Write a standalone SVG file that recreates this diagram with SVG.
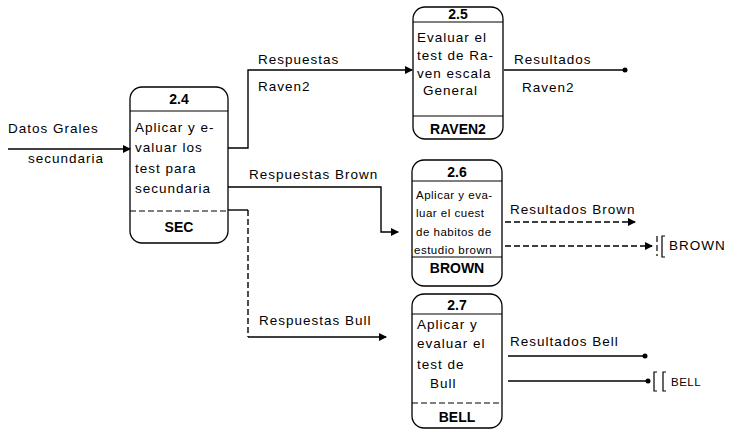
<svg xmlns="http://www.w3.org/2000/svg" width="736" height="430" viewBox="0 0 736 430">
<defs>
<marker id="tri" markerWidth="8" markerHeight="8" refX="7" refY="4" orient="auto" markerUnits="userSpaceOnUse"><path d="M0,0 L8,4 L0,8 Z" fill="#000"/></marker>
<marker id="dot" markerWidth="6" markerHeight="6" refX="3" refY="3" orient="auto" markerUnits="userSpaceOnUse"><circle cx="3" cy="3" r="2.5" fill="#000"/></marker>
<style>
text{font-family:"Liberation Sans",Arial,sans-serif;fill:#000}
.t{font-size:13.5px;letter-spacing:1px}
.s{font-size:11.5px;letter-spacing:0.5px}
.h{font-size:14px;font-weight:bold}
.box{fill:none;stroke:#000;stroke-width:1.3}
.ln{fill:none;stroke:#000;stroke-width:1.2}
.c{fill:none;stroke:#000;stroke-width:1.4}
.d{stroke-dasharray:6 3}
</style>
</defs>
<rect width="736" height="430" fill="#fff"/>

<g id="p24">
<rect class="box" x="130" y="87" width="98" height="156" rx="12"/>
<line class="ln" x1="130" y1="111" x2="228" y2="111"/>
<line class="ln d" x1="130" y1="211" x2="228" y2="211"/>
<text class="h" x="179" y="104" text-anchor="middle">2.4</text>
<text class="t" x="135" y="132">Aplicar y e-</text>
<text class="t" x="135" y="152">valuar los</text>
<text class="t" x="135" y="173">test para</text>
<text class="t" x="135" y="193">secundaria</text>
<text class="h" x="179" y="232" text-anchor="middle">SEC</text>
</g>

<g id="p25">
<rect class="box" x="413" y="7" width="90" height="132" rx="12"/>
<line class="ln" x1="413" y1="22" x2="503" y2="22"/>
<line class="ln" x1="413" y1="116" x2="503" y2="116"/>
<text class="h" x="458" y="19" text-anchor="middle">2.5</text>
<text class="t" x="417" y="42">Evaluar el</text>
<text class="t" x="417" y="60">test de Ra-</text>
<text class="t" x="417" y="78">ven escala</text>
<text class="t" x="423" y="95">General</text>
<text class="h" x="458" y="134" text-anchor="middle">RAVEN2</text>
</g>

<g id="p26">
<rect class="box" x="412" y="160" width="90" height="126" rx="12"/>
<line class="ln" x1="412" y1="181" x2="502" y2="181"/>
<line class="ln" x1="412" y1="257" x2="502" y2="257"/>
<text class="h" x="457" y="177" text-anchor="middle">2.6</text>
<text class="s" x="416" y="199">Aplicar y eva-</text>
<text class="s" x="416" y="217">luar el cuest</text>
<text class="s" x="416" y="236">de habitos de</text>
<text class="s" x="414" y="254">estudio brown</text>
<text class="h" x="457" y="273" text-anchor="middle">BROWN</text>
</g>

<g id="p27">
<rect class="box" x="412" y="294" width="90" height="134" rx="12"/>
<line class="ln" x1="412" y1="314" x2="502" y2="314"/>
<line class="ln d" x1="412" y1="403" x2="502" y2="403"/>
<text class="h" x="457" y="310" text-anchor="middle">2.7</text>
<text class="t" x="417" y="329">Aplicar y</text>
<text class="t" x="417" y="348">evaluar el</text>
<text class="t" x="417" y="369">test de</text>
<text class="t" x="430" y="388">Bull</text>
<text class="h" x="457" y="422" text-anchor="middle">BELL</text>
</g>

<g id="store-brown">
<line class="ln d" x1="657" y1="236" x2="657" y2="256"/>
<path class="ln" d="M665,236 L662,236 L662,257 L665,257"/>
<text class="t" x="669" y="250">BROWN</text>
</g>

<g id="store-bell">
<path class="ln" d="M657,372 L654,372 L654,391 L657,391"/>
<path class="ln" d="M666,372 L663,372 L663,391 L666,391"/>
<text class="s" x="671" y="386">BELL</text>
</g>

<g id="connectors">
<line class="c" x1="8" y1="149" x2="130" y2="149" marker-end="url(#tri)"/>
<polyline class="c" points="228,148 248,148 248,70 412,70" marker-end="url(#tri)"/>
<line class="c" x1="504" y1="70" x2="625" y2="70" marker-end="url(#dot)"/>
<polyline class="c" points="228,187 381,187 381,232 398,232" marker-end="url(#tri)"/>
<line class="c d" x1="505" y1="222" x2="635" y2="222" marker-end="url(#tri)"/>
<line class="c d" x1="505" y1="246" x2="652" y2="246" marker-end="url(#tri)"/>
<polyline class="c" points="228,210 248,210" />
<polyline class="c d" points="248,210 248,337"/>
<polyline class="c" points="248,337 386,337" marker-end="url(#tri)"/>
<line class="c" x1="508" y1="356" x2="645" y2="356" marker-end="url(#dot)"/>
<line class="c" x1="508" y1="381" x2="648" y2="381" marker-end="url(#dot)"/>
</g>

<g id="labels">
<text class="t" x="8" y="133">Datos Grales</text>
<text class="t" x="28" y="163">secundaria</text>
<text class="t" x="258" y="64">Respuestas</text>
<text class="t" x="258" y="91">Raven2</text>
<text class="t" x="514" y="64">Resultados</text>
<text class="t" x="522" y="92">Raven2</text>
<text class="t" x="249" y="179">Respuestas Brown</text>
<text class="t" x="510" y="214">Resultados  Brown</text>
<text class="t" x="259" y="325">Respuestas Bull</text>
<text class="t" x="510" y="346">Resultados  Bell</text>
</g>
</svg>
